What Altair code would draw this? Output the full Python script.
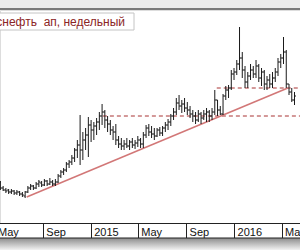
import altair as alt
import pandas as pd

# Weekly OHLC (thousand RUB)
high = [76, 71, 69, 68, 68, 67, 67, 66, 65, 66, 71, 73, 72, 75, 77, 76, 78, 77, 79, 77, 78,
        83, 87, 89, 95, 97, 102, 109, 117, 142, 125, 129, 140, 137, 135, 139, 145, 153, 147,
        141, 137, 131, 133, 121, 119, 117, 119, 117, 119, 117, 121, 119, 125, 132, 133, 131,
        129, 129, 130, 131, 135, 138, 143, 149, 159, 162, 157, 159, 155, 151, 147, 145, 147,
        145, 147, 149, 147, 149, 167, 157, 151, 163, 171, 172, 187, 189, 197, 230, 205, 191,
        185, 193, 191, 197, 193, 189, 187, 181, 183, 185, 189, 199, 203, 220, 207, 173, 169, 165]
low = [67, 66, 64, 63, 63, 62, 62, 61, 60, 59, 64, 67, 67, 68, 70, 70, 71, 71, 72, 71, 71,
       74, 79, 82, 85, 89, 92, 95, 99, 92, 97, 107, 100, 115, 117, 122, 127, 132, 129,
       125, 122, 117, 112, 109, 107, 107, 109, 107, 109, 108, 110, 109, 109, 119, 121, 119,
       117, 120, 121, 121, 125, 127, 131, 137, 142, 147, 144, 145, 142, 139, 135, 133, 135,
       133, 137, 135, 135, 137, 142, 141, 142, 142, 157, 159, 167, 177, 182, 187, 179, 169,
       169, 177, 179, 179, 175, 171, 167, 167, 169, 169, 175, 181, 189, 193, 169, 162, 155, 152]
open_ = [75, 69, 67, 67, 65, 66, 64, 65, 63, 61, 65, 69, 71, 69, 73, 74, 72, 76, 73, 75, 73,
         75, 81, 85, 87, 93, 95, 99, 107, 112, 107, 117, 122, 132, 127, 131, 135, 141, 145,
         137, 133, 127, 125, 117, 113, 111, 113, 111, 115, 112, 114, 117, 113, 122, 129, 125,
         123, 121, 127, 124, 129, 132, 135, 141, 145, 154, 151, 153, 149, 147, 143, 141, 137,
         143, 139, 143, 145, 141, 145, 157, 147, 143, 161, 167, 169, 183, 185, 193, 199, 187,
         175, 181, 187, 183, 191, 179, 185, 173, 177, 173, 179, 185, 195, 199, 205, 173, 165, 157]
close = [69, 67, 66, 65, 66, 64, 65, 63, 62, 65, 69, 71, 69, 73, 75, 72, 76, 73, 75, 73, 75,
         81, 85, 87, 93, 95, 99, 107, 112, 107, 117, 122, 132, 127, 131, 135, 141, 145, 137,
         133, 127, 125, 117, 113, 111, 113, 111, 115, 112, 114, 117, 113, 122, 129, 125, 123,
         121, 127, 124, 129, 132, 135, 141, 145, 154, 151, 153, 149, 147, 143, 141, 137, 143,
         139, 143, 145, 141, 145, 157, 147, 143, 161, 167, 169, 183, 185, 193, 199, 187, 175,
         181, 187, 183, 191, 179, 185, 173, 177, 173, 179, 185, 195, 199, 205, 173, 165, 157, 161]
dates = pd.date_range("2014-05-16", periods=len(high), freq="7D").strftime("%Y-%m-%d")

# trend line and horizontal levels
trend_dates = ["2014-07-22", "2016-05-17"]
trend_vals = [60, 169]
level_start = ["2015-02-01", "2015-11-18"]
level_end = ["2016-06-17", "2016-06-17"]
level_vals = [141, 169]

title_text = "Транснефть\u00a0 ап, недельный"

ohlc = pd.DataFrame({"date": dates, "open": open_, "high": high, "low": low, "close": close})
trend = pd.DataFrame({"date": trend_dates, "price": trend_vals})
levels = pd.DataFrame({"start": level_start, "end": level_end, "price": level_vals})
one = pd.DataFrame({"k": [0]})

W, H = 300, 213
xscale = alt.Scale(domain=[alt.DateTime(year=2014, month=5, date=1),
                           alt.DateTime(year=2016, month=6, date=17)],
                   range=[-5.5, W], nice=False)
yscale = alt.Scale(domain=[34, 247], nice=False, zero=False)
xaxis = alt.Axis(
    values=[alt.DateTime(year=2014, month=5, date=1), alt.DateTime(year=2014, month=9, date=1),
            alt.DateTime(year=2015, month=1, date=1), alt.DateTime(year=2015, month=5, date=1),
            alt.DateTime(year=2015, month=9, date=1), alt.DateTime(year=2016, month=1, date=1),
            alt.DateTime(year=2016, month=5, date=1)],
    labelExpr="month(datum.value) == 0 ? timeFormat(datum.value, '%Y') : timeFormat(datum.value, '%b')",
    title=None, grid=False, domainColor="#222", domainWidth=1, tickColor="#222", tickSize=15,
    tickWidth=1, labelAlign="left", labelBaseline="top", labelPadding=-12, labelOffset=3,
    labelFlush=False, labelOverlap=False, labelFont="Liberation Sans", labelFontSize=11,
    labelColor="#111", labelBound=False,
)

def X(field):
    return alt.X(field, type="temporal", scale=xscale, axis=xaxis)

Y = lambda f: alt.Y(f, type="quantitative", scale=yscale, axis=None)

top_band = alt.Chart(one).mark_rect(fill="#ececec").encode(
    x=alt.value(0), x2=alt.value(W), y=alt.value(-10), y2=alt.value(-1))
top_line = alt.Chart(one).mark_rule(color="#7a7a7a", strokeWidth=2).encode(
    x=alt.value(0), x2=alt.value(W), y=alt.value(-1))
shadow = alt.Chart(one).mark_rect(
    fill=alt.Gradient(gradient="linear", stops=[alt.GradientStop(color="#8c8c8c", offset=0),
                                                alt.GradientStop(color="#f2f2f2", offset=1)],
                      x1=0, x2=0, y1=0, y2=1)
).encode(x=alt.value(0), x2=alt.value(W), y=alt.value(H + 15), y2=alt.value(H + 27))
bottom_line = alt.Chart(one).mark_rule(color="#222", strokeWidth=1).encode(
    x=alt.value(0), x2=alt.value(W), y=alt.value(H + 15))

hl = alt.Chart(ohlc).mark_rule(color="#1a1a1a", strokeWidth=1).encode(
    x=X("date"), y=Y("low"), y2="high")
op = alt.Chart(ohlc).mark_rule(color="#1a1a1a", strokeWidth=1, xOffset=-1.5, x2Offset=0).encode(
    x=X("date"), x2="date", y=Y("open"))
cl = alt.Chart(ohlc).mark_rule(color="#1a1a1a", strokeWidth=1, xOffset=0, x2Offset=1.5).encode(
    x=X("date"), x2="date", y=Y("close"))

trend_line = alt.Chart(trend).mark_line(color="#d27777", strokeWidth=1.5).encode(
    x=X("date"), y=Y("price"))
level_rules = alt.Chart(levels).mark_rule(color="#a83232", strokeWidth=1, strokeDash=[4, 3]).encode(
    x=X("start"), x2="end", y=Y("price"))

title_box = alt.Chart(one).mark_rect(fill="white", stroke="#c4c4c4", strokeWidth=1).encode(
    x=alt.value(-2), x2=alt.value(134), y=alt.value(3), y2=alt.value(20))
title = alt.Chart(one).mark_text(align="right", baseline="middle", fontSize=12,
                                 font="Liberation Sans", color="#8b2525").encode(
    x=alt.value(125), y=alt.value(12), text=alt.value(title_text))

chart = alt.layer(
    top_band, top_line, shadow, level_rules, trend_line, hl, op, cl, bottom_line, title_box, title
).properties(
    width=W, height=H, autosize=alt.AutoSizeParams(type="none"),
    padding={"left": 0, "top": 10, "right": 0, "bottom": 27},
).configure_view(stroke=None).configure(background="white")

chart.save("out.html", embed_options={"renderer": "svg", "actions": False})
